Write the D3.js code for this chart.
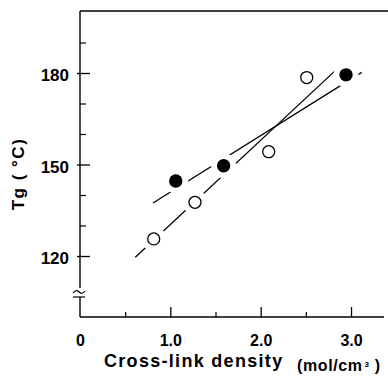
<!DOCTYPE html>
<html><head><meta charset="utf-8">
<script src="https://cdn.jsdelivr.net/npm/d3@7"></script>
<style>
html,body{margin:0;padding:0;background:#fff;}
svg{display:block;font-family:Arial,"Liberation Sans",sans-serif;}
</style></head>
<body>
<svg id="c" width="388" height="376"></svg>
<script>
// Data
const filledX = [1.06, 1.59, 2.945];
const filledY = [144.6, 149.6, 179.4];
const openX = [0.816, 1.273, 2.089, 2.51];
const openY = [125.6, 137.6, 154.2, 178.5];
const filledFitX = [0.808, 3.118];
const filledFitY = [137.4, 180.2];
const openFitX = [0.612, 2.823];
const openFitY = [119.6, 180.7];
const xMajorTicks = [0, 1, 2, 3];
const xTickLabels = ["0", "1.0", "2.0", "3.0"];
const xMinorTicks = [0.5, 1.5, 2.5];
const yMajorTicks = [120, 150, 180];
const yTickLabels = ["120", "150", "180"];
const yMinorTicks = [130, 140, 160, 170, 190];

const svg = d3.select("#c");
const x = d3.scaleLinear().domain([0, 3]).range([80, 351]);
const y = d3.scaleLinear().domain([120, 180]).range([256, 73]);
const axLeft = 80, axBottom = 317, axTop = 11, axRight = 384;

// frame lines
const g = svg.append("g").attr("stroke", "#000").attr("stroke-width", 1.4).attr("fill", "none");
g.append("line").attr("x1", axLeft).attr("x2", 388).attr("y1", axTop).attr("y2", axTop);
g.append("line").attr("x1", axLeft).attr("x2", axLeft).attr("y1", axTop).attr("y2", 288);
g.append("line").attr("x1", axLeft).attr("x2", axLeft).attr("y1", 297).attr("y2", axBottom);
g.append("line").attr("x1", axLeft).attr("x2", axRight).attr("y1", axBottom).attr("y2", axBottom);
// axis break marks
g.append("path").attr("d", "M73,293 Q76,289 79,292 Q82,295 85,291").attr("stroke-width", 1.2);
g.append("line").attr("x1", 73).attr("x2", 85).attr("y1", 297).attr("y2", 297).attr("stroke-width", 1.2);

// y axis ticks
const yMaj = d3.axisLeft(y).tickValues(yMajorTicks).tickSize(-10).tickPadding(11)
  .tickFormat((d, i) => yTickLabels[i]);
const gy = svg.append("g").attr("transform", `translate(${axLeft},0)`).call(yMaj);
gy.select(".domain").remove();
gy.selectAll("line").attr("stroke-width", 1.3).attr("x1", -3);
gy.selectAll("text").attr("font-size", 17).attr("font-weight", "bold").attr("fill", "#000").attr("dy", "0.45em");
const yMin = d3.axisLeft(y).tickValues(yMinorTicks).tickSize(-6).tickFormat("");
const gy2 = svg.append("g").attr("transform", `translate(${axLeft},0)`).call(yMin);
gy2.select(".domain").remove();
gy2.selectAll("line").attr("stroke-width", 1.2);

// x axis ticks
const xMaj = d3.axisBottom(x).tickValues(xMajorTicks).tickSize(-10).tickPadding(18)
  .tickFormat((d, i) => xTickLabels[i]);
const gx = svg.append("g").attr("transform", `translate(0,${axBottom})`).call(xMaj);
gx.select(".domain").remove();
gx.selectAll("line").attr("stroke-width", 1.3).attr("opacity", d => d === 0 ? 0 : 1);
gx.selectAll("text").attr("font-size", 16).attr("font-weight", "bold").attr("fill", "#000");
const xMin = d3.axisBottom(x).tickValues(xMinorTicks).tickSize(-5).tickFormat("");
const gx2 = svg.append("g").attr("transform", `translate(0,${axBottom})`).call(xMin);
gx2.select(".domain").remove();
gx2.selectAll("line").attr("stroke-width", 1.2);

// fit lines
const line = d3.line().x(d => x(d[0])).y(d => y(d[1]));
svg.append("path").datum(d3.zip(filledFitX, filledFitY)).attr("d", line)
  .attr("stroke", "#000").attr("stroke-width", 1.3).attr("fill", "none");
svg.append("path").datum(d3.zip(openFitX, openFitY)).attr("d", line)
  .attr("stroke", "#000").attr("stroke-width", 1.3).attr("fill", "none");

// halos (gaps around markers)
const filled = d3.zip(filledX, filledY), open = d3.zip(openX, openY);
svg.append("g").selectAll("circle").data(filled.concat(open)).join("circle")
  .attr("cx", d => x(d[0])).attr("cy", d => y(d[1])).attr("r", 12.5).attr("fill", "#fff");

// markers
svg.append("g").selectAll("circle").data(filled).join("circle")
  .attr("cx", d => x(d[0])).attr("cy", d => y(d[1])).attr("r", 6.7).attr("fill", "#000");
svg.append("g").selectAll("circle").data(open).join("circle")
  .attr("cx", d => x(d[0])).attr("cy", d => y(d[1])).attr("r", 6).attr("fill", "#fff")
  .attr("stroke", "#000").attr("stroke-width", 1.3);

// titles
svg.append("text").attr("transform", "translate(24,174) rotate(-90)")
  .attr("text-anchor", "middle").attr("font-size", 17).attr("font-weight", "bold")
  .attr("letter-spacing", 1.5).text("Tg ( °C)");
svg.append("text").attr("x", 104).attr("y", 367).attr("font-size", 18).attr("font-weight", "bold")
  .attr("letter-spacing", 1.3).text("Cross-link density");
const u = svg.append("text").attr("x", 297).attr("y", 371).attr("font-size", 16).attr("font-weight", "bold")
  .attr("letter-spacing", 0.6);
u.append("tspan").text("(mol/cm");
u.append("tspan").attr("font-size", 8).attr("dx", 2).attr("dy", -4).text("3");
u.append("tspan").attr("dy", 4).text(" )");
</script>
</body></html>
